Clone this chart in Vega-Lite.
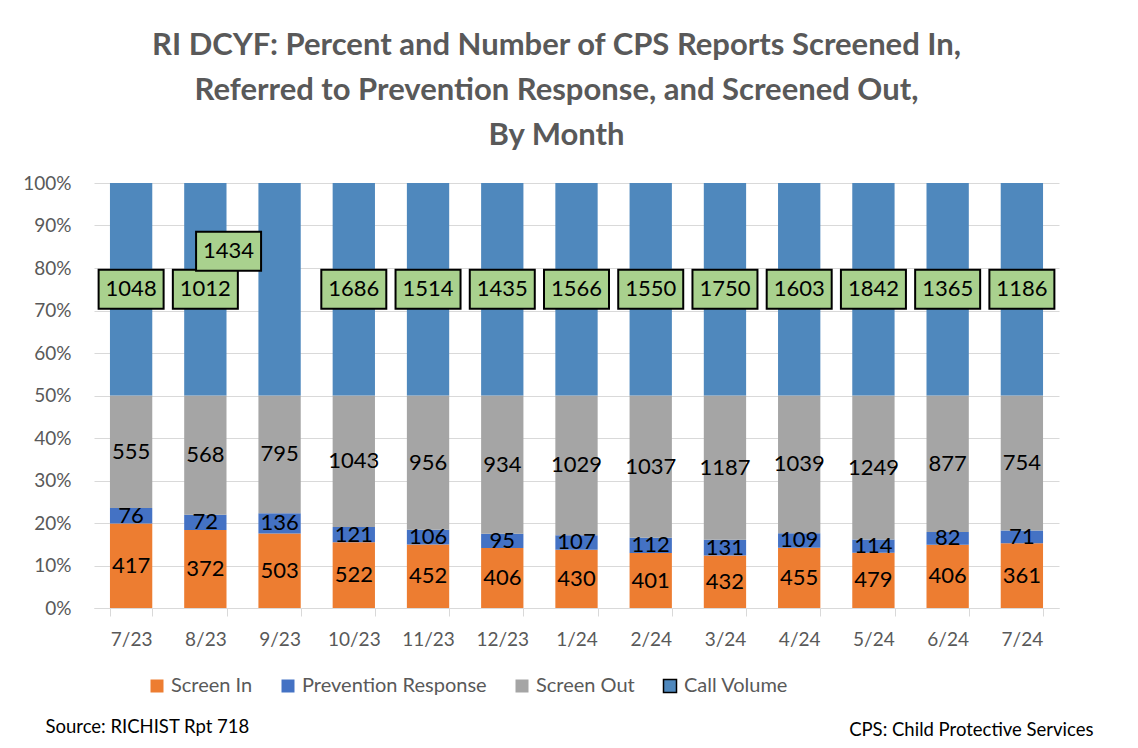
{
  "$schema": "https://vega.github.io/schema/vega-lite/v6.json",
  "width": 965,
  "height": 425,
  "autosize": {"type": "none"},
  "padding": {"left": 94, "top": 183, "right": 79, "bottom": 140},
  "background": "white",
  "config": {"view": {"stroke": null}},
  "title": {
    "text": ["RI DCYF: Percent and Number of CPS Reports Screened In,", "Referred to Prevention Response, and Screened Out,", "By Month"],
    "font": "Lato", "fontSize": 31, "fontWeight": "bold", "color": "#595959",
    "lineHeight": 45, "anchor": "middle", "frame": "group", "dx": -20, "offset": 22
  },
  "data": {"values": [
    {"m": "7/23", "c": "Screen In", "v": 417, "o": 1}, {"m": "7/23", "c": "Prevention Response", "v": 76, "o": 2}, {"m": "7/23", "c": "Screen Out", "v": 555, "o": 3}, {"m": "7/23", "c": "Call Volume", "v": 1048, "o": 4},
    {"m": "8/23", "c": "Screen In", "v": 372, "o": 1}, {"m": "8/23", "c": "Prevention Response", "v": 72, "o": 2}, {"m": "8/23", "c": "Screen Out", "v": 568, "o": 3}, {"m": "8/23", "c": "Call Volume", "v": 1012, "o": 4},
    {"m": "9/23", "c": "Screen In", "v": 503, "o": 1}, {"m": "9/23", "c": "Prevention Response", "v": 136, "o": 2}, {"m": "9/23", "c": "Screen Out", "v": 795, "o": 3}, {"m": "9/23", "c": "Call Volume", "v": 1434, "o": 4},
    {"m": "10/23", "c": "Screen In", "v": 522, "o": 1}, {"m": "10/23", "c": "Prevention Response", "v": 121, "o": 2}, {"m": "10/23", "c": "Screen Out", "v": 1043, "o": 3}, {"m": "10/23", "c": "Call Volume", "v": 1686, "o": 4},
    {"m": "11/23", "c": "Screen In", "v": 452, "o": 1}, {"m": "11/23", "c": "Prevention Response", "v": 106, "o": 2}, {"m": "11/23", "c": "Screen Out", "v": 956, "o": 3}, {"m": "11/23", "c": "Call Volume", "v": 1514, "o": 4},
    {"m": "12/23", "c": "Screen In", "v": 406, "o": 1}, {"m": "12/23", "c": "Prevention Response", "v": 95, "o": 2}, {"m": "12/23", "c": "Screen Out", "v": 934, "o": 3}, {"m": "12/23", "c": "Call Volume", "v": 1435, "o": 4},
    {"m": "1/24", "c": "Screen In", "v": 430, "o": 1}, {"m": "1/24", "c": "Prevention Response", "v": 107, "o": 2}, {"m": "1/24", "c": "Screen Out", "v": 1029, "o": 3}, {"m": "1/24", "c": "Call Volume", "v": 1566, "o": 4},
    {"m": "2/24", "c": "Screen In", "v": 401, "o": 1}, {"m": "2/24", "c": "Prevention Response", "v": 112, "o": 2}, {"m": "2/24", "c": "Screen Out", "v": 1037, "o": 3}, {"m": "2/24", "c": "Call Volume", "v": 1550, "o": 4},
    {"m": "3/24", "c": "Screen In", "v": 432, "o": 1}, {"m": "3/24", "c": "Prevention Response", "v": 131, "o": 2}, {"m": "3/24", "c": "Screen Out", "v": 1187, "o": 3}, {"m": "3/24", "c": "Call Volume", "v": 1750, "o": 4},
    {"m": "4/24", "c": "Screen In", "v": 455, "o": 1}, {"m": "4/24", "c": "Prevention Response", "v": 109, "o": 2}, {"m": "4/24", "c": "Screen Out", "v": 1039, "o": 3}, {"m": "4/24", "c": "Call Volume", "v": 1603, "o": 4},
    {"m": "5/24", "c": "Screen In", "v": 479, "o": 1}, {"m": "5/24", "c": "Prevention Response", "v": 114, "o": 2}, {"m": "5/24", "c": "Screen Out", "v": 1249, "o": 3}, {"m": "5/24", "c": "Call Volume", "v": 1842, "o": 4},
    {"m": "6/24", "c": "Screen In", "v": 406, "o": 1}, {"m": "6/24", "c": "Prevention Response", "v": 82, "o": 2}, {"m": "6/24", "c": "Screen Out", "v": 877, "o": 3}, {"m": "6/24", "c": "Call Volume", "v": 1365, "o": 4},
    {"m": "7/24", "c": "Screen In", "v": 361, "o": 1}, {"m": "7/24", "c": "Prevention Response", "v": 71, "o": 2}, {"m": "7/24", "c": "Screen Out", "v": 754, "o": 3}, {"m": "7/24", "c": "Call Volume", "v": 1186, "o": 4}
  ]},
  "encoding": {
    "x": {
      "field": "m", "type": "nominal", "sort": null,
      "scale": {"paddingInner": 0.43, "paddingOuter": 0.215},
      "axis": {
        "title": "Source: RICHIST Rpt 718", "titleFont": "Lato", "titleFontSize": 18.5, "titleFontWeight": "normal",
        "titleColor": "black", "titleX": -49, "titleY": 118, "titleAlign": "left", "titleBaseline": "middle",
        "labelAngle": 0, "labelFont": "Lato", "labelFontSize": 19, "labelColor": "#595959", "labelPadding": 14,
        "tickBand": "extent", "tickColor": "#d9d9d9", "tickSize": 8, "domainColor": "#d9d9d9", "grid": false
      }
    }
  },
  "layer": [
    {
      "mark": {"type": "bar"},
      "encoding": {
        "y": {
          "field": "v", "type": "quantitative", "stack": "normalize", "scale": {"domain": [0, 1]},
          "axis": {
            "title": "CPS: Child Protective Services", "titleAngle": 0, "titleX": 999, "titleY": 546,
            "titleAlign": "right", "titleBaseline": "middle", "titleFont": "Lato", "titleFontSize": 18.5,
            "titleFontWeight": "normal", "titleColor": "black",
            "format": ".0%", "values": [0, 0.1, 0.2, 0.3, 0.4, 0.5, 0.6, 0.7, 0.8, 0.9, 1],
            "labelFont": "Lato", "labelFontSize": 19, "labelColor": "#595959", "labelPadding": 23,
            "ticks": false, "tickSize": 0, "domain": false, "grid": true, "gridColor": "#d9d9d9"
          }
        },
        "color": {
          "field": "c", "type": "nominal",
          "scale": {"domain": ["Screen In", "Prevention Response", "Screen Out", "Call Volume"], "range": ["#ED7D31", "#4472C4", "#A5A5A5", "#4F88BD"]},
          "legend": {
            "title": null, "orient": "none", "legendX": 53, "legendY": 493, "direction": "horizontal",
            "symbolType": "square", "symbolSize": 169, "labelFont": "Lato", "labelFontSize": 20, "labelLimit": 400,
            "labelColor": "#595959", "columnPadding": 25, "labelOffset": 4,
            "encode": {"symbols": {"update": {"stroke": {"value": "black"}, "strokeWidth": {"signal": "datum.label === 'Call Volume' ? 1.5 : 0"}}}}
          }
        },
        "order": {"field": "o", "type": "quantitative"}
      }
    },
    {
      "mark": {"type": "point", "shape": "M-1,-0.6H1V0.6H-1Z", "size": 4225, "filled": true, "fill": "#A9D18E", "stroke": "black", "strokeWidth": 2},
      "encoding": {
        "y": {"field": "v", "type": "quantitative", "stack": "normalize", "bandPosition": 0.5},
        "detail": {"field": "c"},
        "order": {"field": "o", "type": "quantitative"},
        "opacity": {"condition": {"test": "datum.c === 'Call Volume' && datum.m !== '9/23'", "value": 1}, "value": 0}
      }
    },
    {
      "mark": {"type": "text", "font": "Lato", "fontSize": 22, "color": "black", "baseline": "middle"},
      "encoding": {
        "y": {"field": "v", "type": "quantitative", "stack": "normalize", "bandPosition": 0.5},
        "detail": {"field": "c"},
        "order": {"field": "o", "type": "quantitative"},
        "text": {"field": "v", "type": "quantitative", "format": "d"},
        "opacity": {"condition": {"test": "datum.c === 'Call Volume' && datum.m === '9/23'", "value": 0}, "value": 1}
      }
    },
    {
      "mark": {"type": "point", "shape": "M-1,-0.6H1V0.6H-1Z", "size": 4225, "filled": true, "fill": "#A9D18E", "stroke": "black", "strokeWidth": 2, "xOffset": -51, "yOffset": -38},
      "encoding": {
        "y": {"field": "v", "type": "quantitative", "stack": "normalize", "bandPosition": 0.5},
        "detail": {"field": "c"},
        "order": {"field": "o", "type": "quantitative"},
        "opacity": {"condition": {"test": "datum.c === 'Call Volume' && datum.m === '9/23'", "value": 1}, "value": 0}
      }
    },
    {
      "mark": {"type": "text", "font": "Lato", "fontSize": 22, "color": "black", "baseline": "middle", "xOffset": -51, "yOffset": -38},
      "encoding": {
        "y": {"field": "v", "type": "quantitative", "stack": "normalize", "bandPosition": 0.5},
        "detail": {"field": "c"},
        "order": {"field": "o", "type": "quantitative"},
        "text": {"field": "v", "type": "quantitative", "format": "d"},
        "opacity": {"condition": {"test": "datum.c === 'Call Volume' && datum.m === '9/23'", "value": 1}, "value": 0}
      }
    }
  ]
}
